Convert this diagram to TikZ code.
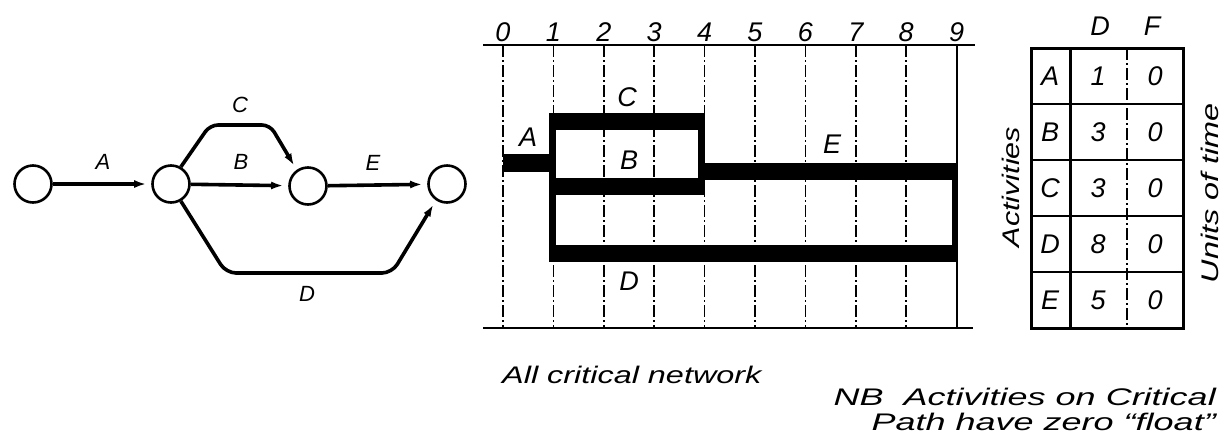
\documentclass[tikz,border=0pt]{standalone}
\usepackage{fontspec}
\usepackage{graphicx}
\setmainfont{Liberation Sans}
\usetikzlibrary{arrows.meta}
\newcommand\wt[1]{\scalebox{1.35}[1]{#1}}
\newcommand\wn[1]{\scalebox{1.5}[1]{#1}}
\begin{document}
\begin{tikzpicture}[x=1pt,y=-1pt,
  ev/.style={circle,draw,line width=2.6pt,minimum size=37pt,inner sep=0pt},
  act/.style={line width=3.6pt,-{Latex[length=12pt,width=8pt]},shorten >=5pt},
  lbl/.style={font=\fontsize{22}{26}\selectfont\itshape,inner sep=0pt},
  big/.style={font=\fontsize{27}{30}\selectfont\itshape,inner sep=0pt},
  txt/.style={font=\fontsize{24}{28}\selectfont\itshape,inner sep=0pt},
  gridl/.style={line width=1.5pt,dash pattern=on 12pt off 3pt on 2pt off 3pt},
  bar/.style={fill=black}
]
\useasboundingbox (0,0) rectangle (1224,440);

% ---------- network ----------
\node[ev] (n1) at (33,184) {};
\node[ev] (n2) at (171,184) {};
\node[ev] (n3) at (308,186) {};
\node[ev] (n4) at (447,184) {};
\draw[act] (n1) -- (n2);
\draw[act] (n2) -- (n3);
\draw[act] (n3) -- (n4);
\coordinate (c1) at (210,125);
\coordinate (c2) at (270,125);
\draw[act,rounded corners=8pt] (n2.60) -- (c1) -- (c2) -- (n3.125);
\coordinate (d1) at (226,273);
\coordinate (d2) at (392,273);
\draw[act,rounded corners=10pt] (n2.-60) -- (d1) -- (d2) -- (n4.-124);
\node[lbl] (la) at (103,162) {A};
\node[lbl] (lb) at (241,162) {B};
\node[lbl] (lc) at (240,105) {C};
\node[lbl] (le) at (373,163) {E};
\node[lbl] (ld) at (307,294) {D};

% ---------- bar chart ----------
\draw[line width=2.5pt] (483,45) coordinate (tl) -- (975,45) coordinate (tr);
\draw[line width=2.5pt] (483,328) coordinate (bl) -- (973,328) coordinate (br);
\foreach \i in {0,...,8}{
  \draw[gridl] ({503+50.4*\i},45) -- ({503+50.4*\i},328);
}
\draw[line width=2pt] (956.6,45) -- (956.6,328);
\foreach \i in {0,...,9}{
  \node[big] (t\i) at ({503+50.4*\i},32) {\i};
}
\fill[bar] (503,154) rectangle (552,172);
\fill[bar] (549,113) rectangle (705,130);
\fill[bar] (549,178) rectangle (705,195);
\fill[bar] (549,113) rectangle (556,262);
\fill[bar] (698,113) rectangle (705,195);
\fill[bar] (698,163) rectangle (958,180);
\fill[bar] (952,163) rectangle (958,262);
\fill[bar] (549,245) rectangle (958,262);
\node[big] (ga) at (528,137) {A};
\node[big] (gc) at (627,97) {C};
\node[big] (gb) at (629,160) {B};
\node[big] (ge) at (832,144) {E};
\node[big] (gd) at (629,281) {D};

% ---------- table ----------
\draw[line width=3pt] (1031,48) rectangle (1183,328);
\draw[line width=3pt] (1070,48) -- (1070,328);
\draw[gridl] (1127,48) -- (1127,328);
\foreach \y in {104,160,216,272}{
  \draw[line width=2.5pt] (1031,\y) -- (1183,\y);
}
\node[big] (hd) at (1100,26) {D};
\node[big] (hf) at (1152,26) {F};
\foreach \a/\d [count=\r from 0] in {A/1,B/3,C/3,D/8,E/5}{
  \node[big] (ra\r) at (1050,{76+56*\r}) {\a};
  \node[big] (rd\r) at (1098,{76+56*\r}) {\d};
  \node[big] (rf\r) at (1155,{76+56*\r}) {0};
}
\node[txt,rotate=90] (act) at (1011,187) {\scalebox{1.27}[1]{Activities}};
\node[txt,rotate=90] (uot) at (1210,193) {\wt{Units of time}};

% ---------- notes ----------
\node[txt,anchor=west] (cap) at (502,375) {\wt{All critical network}};
\node[txt,anchor=east] (nb1) at (1216,397) {\wn{NB\ \ Activities on Critical}};
\node[txt,anchor=east] (nb2) at (1216,422) {\wn{Path have zero ``float''}};
\end{tikzpicture}
\end{document}
